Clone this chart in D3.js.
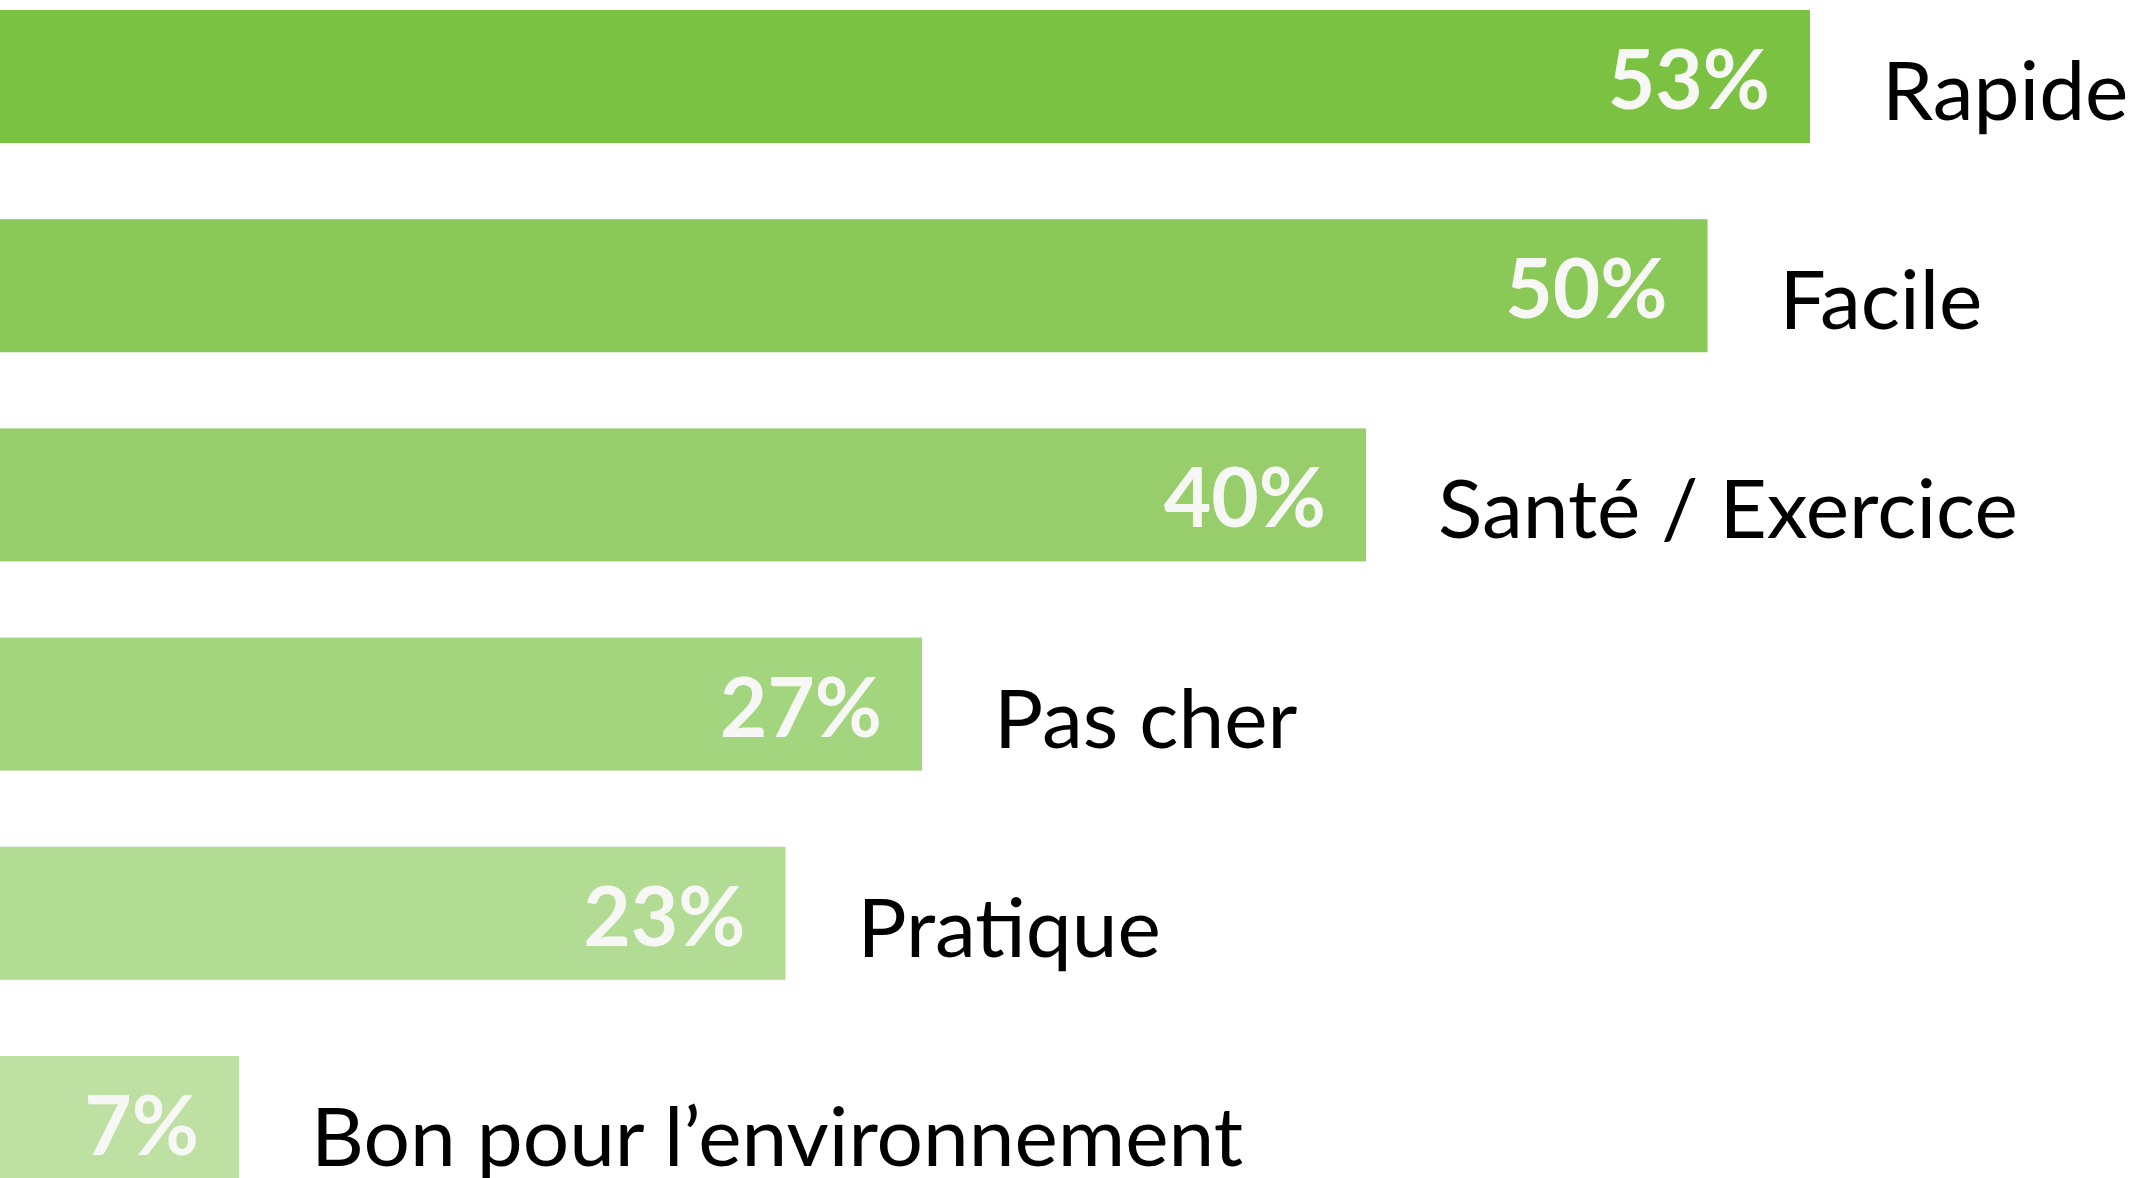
<!DOCTYPE html>
<html>
<head>
<meta charset="utf-8">
<script src="https://cdn.jsdelivr.net/npm/d3@7"></script>
<style>
  body { margin: 0; background: #fff; }
  svg { display: block; }
</style>
</head>
<body>
<svg id="chart" width="2148" height="1178"></svg>
<script>
// values
var categories = ['Rapide', 'Facile', 'Santé / Exercice', 'Pas cher', 'Pratique', 'Bon pour l\u2019environnement'];
var values = [53, 50, 40, 27, 23, 7];
var colors = ['#7bc243', '#8ac857', '#97ce6b', '#a3d47e', '#b2db93', '#bee0a2'];

var width = 2148, height = 1178;

var svg = d3.select('#chart');

var x = d3.scaleLinear().domain([0, 53]).range([0, 1810]);
var y = d3.scaleBand().domain(categories).range([10, 1189]).paddingInner(0.364).paddingOuter(0);

var data = categories.map((c, i) => ({cat: c, value: values[i], color: colors[i]}));

svg.selectAll('.bar')
   .data(data)
   .enter()
   .append('rect')
   .attr('class', 'bar')
   .attr('x', x(0))
   .attr('y', d => y(d.cat))
   .attr('width', d => x(d.value) - x(0))
   .attr('height', y.bandwidth())
   .attr('fill', d => d.color);

svg.selectAll('.val')
   .data(data)
   .enter()
   .append('text')
   .attr('class', 'val')
   .attr('x', d => x(d.value) - 40)
   .attr('y', d => y(d.cat) + 99)
   .attr('text-anchor', 'end')
   .attr('font-family', 'Lato, sans-serif')
   .attr('font-weight', 700)
   .attr('font-size', 82)
   .attr('fill', '#f7f7f5')
   .text(d => d.value + '%');

svg.selectAll('.cat')
   .data(data)
   .enter()
   .append('text')
   .attr('class', 'cat')
   .attr('x', d => x(d.value) + 72)
   .attr('y', d => y(d.cat) + 110)
   .attr('font-family', 'Lato, sans-serif')
   .attr('font-weight', 400)
   .attr('font-size', 82)
   .attr('fill', '#000')
   .text(d => d.cat);
</script>
</body>
</html>
